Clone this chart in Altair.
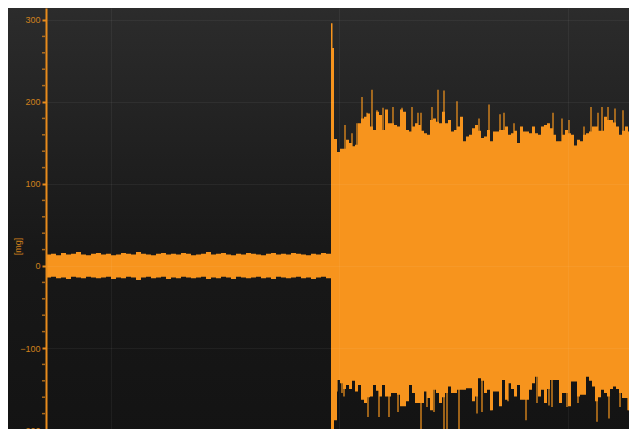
import altair as alt
import pandas as pd

# ---- axis values ----
x_ticks = [1, 2, 3]                       # time grid (s)
y_major = [-200, -100, 0, 100, 200, 300]  # labelled ticks [mg]
y_minor = [v for v in range(-220, 301, 20) if v % 100 != 0]

# ---- segment 1: low-level noise envelope (before the event) ----
low_t0 = 0.71554
low_dt = 0.021882
low_hi = [14, 15, 13, 16, 14, 15, 17, 14, 13, 15,
          16, 14, 15, 13, 14, 16, 15, 14, 17, 15,
          14, 13, 15, 16, 14, 15, 14, 16, 15, 13,
          14, 15, 17, 14, 15, 16, 14, 13, 15, 14,
          16, 15, 14, 13, 15, 16, 14, 15, 14, 16,
          15, 14, 13, 15, 14, 16, 15]
low_lo = [-14, -13, -15, -14, -16, -13, -14, -15, -13, -14,
          -15, -14, -13, -16, -14, -15, -13, -14, -17, -14,
          -13, -15, -14, -13, -16, -14, -15, -13, -14, -15,
          -14, -13, -16, -14, -15, -13, -14, -16, -13, -14,
          -15, -14, -13, -15, -14, -16, -13, -14, -15, -14,
          -13, -15, -14, -16, -14, -13, -15]

# ---- event spike ----
spike_t0 = 1.96280
spike_dt = 0.006565
spike_hi = [296, 266]
spike_lo = [-235, -235]

# ---- segment 2: high-level vibration envelope (body) ----
high_t0 = 1.97593
high_dt = 0.013129
high_hi = [155, 139, 143, 143, 154, 150, 146, 148, 174, 180,
           182, 186, 170, 166, 188, 184, 166, 191, 174, 174,
           172, 170, 191, 188, 166, 164, 170, 174, 172, 165,
           162, 160, 178, 180, 176, 174, 188, 174, 178, 164,
           166, 170, 182, 152, 158, 160, 168, 172, 165, 156,
           158, 166, 152, 164, 164, 166, 166, 170, 160, 162,
           165, 150, 170, 164, 164, 162, 170, 162, 160, 170,
           172, 174, 168, 160, 152, 152, 160, 166, 162, 160,
           147, 154, 152, 160, 162, 164, 170, 170, 165, 165,
           182, 178, 178, 175, 170, 160, 165, 170, 164, 165,
           166]
high_lo = [-188, -139, -143, -150, -145, -150, -140, -153, -145, -163,
           -167, -160, -159, -145, -152, -159, -145, -159, -159, -155,
           -155, -157, -171, -171, -165, -145, -155, -167, -167, -167,
           -153, -161, -176, -151, -155, -167, -160, -155, -147, -155,
           -155, -151, -151, -151, -149, -149, -165, -159, -137, -140,
           -155, -151, -176, -153, -153, -171, -139, -163, -143, -150,
           -159, -145, -163, -163, -163, -151, -143, -135, -159, -151,
           -167, -150, -139, -139, -139, -167, -155, -155, -171, -141,
           -141, -159, -157, -157, -135, -140, -147, -165, -160, -151,
           -155, -159, -150, -147, -150, -155, -161, -161, -176, -157,
           -147]

# ---- thin single-sample peaks in segment 2 ----
peak_up_t = [2.0241, 2.0547, 2.0766, 2.0985, 2.1204, 2.1422, 2.1641, 2.1904,
             2.2341, 2.2735, 2.3173, 2.3435, 2.3567, 2.4048, 2.4311,
             2.4573, 2.5142, 2.6105, 2.6543, 2.7024, 2.7199, 2.7637, 2.9344,
             2.9737, 3.0044, 3.0700, 3.1007, 3.1313, 3.1488, 3.1751, 3.2057,
             3.2407]
peak_up_v = [172, 162, 174, 206, 187, 215, 190, 193,
             194, 193, 194, 187, 187, 194, 215,
             214, 201, 180, 197, 185, 187, 174, 187,
             180, 178, 170, 194, 187, 194, 194, 192,
             190]
peak_dn_t = [1.9891, 2.0109, 2.0197, 2.1247, 2.1729, 2.2166, 2.2560, 2.3567,
             2.3829, 2.4136, 2.4573, 2.4705, 2.5230, 2.6018, 2.6236, 2.6630,
             2.7024, 2.7374, 2.8162, 2.8643, 2.9168, 2.9300, 2.9956, 3.0438,
             3.1269, 3.1794, 3.2276, 3.2626]
peak_dn_v = [-153, -155, -159, -184, -184, -184, -178, -215,
             -172, -178, -215, -215, -215, -180, -178, -176,
             -167, -165, -188, -167, -170, -172, -172, -167,
             -190, -186, -172, -176]

X_DOMAIN = [0.71554, 3.26696]
Y_DOMAIN = [-221.95, 314.63]

rows = []
for t0, dt, hi, lo in [(low_t0, low_dt, low_hi, low_lo),
                       (spike_t0, spike_dt, spike_hi, spike_lo),
                       (high_t0, high_dt, high_hi, high_lo)]:
    for i, (h, l) in enumerate(zip(hi, lo)):
        rows.append({"t": t0 + i * dt, "hi": h, "lo": l})
rows.append({"t": high_t0 + len(high_hi) * high_dt, "hi": high_hi[-1], "lo": high_lo[-1]})
df = pd.DataFrame(rows)

# peaks start from inside the orange body so they only show beyond its edge
peaks = pd.DataFrame({
    "t": peak_up_t + peak_dn_t,
    "v": peak_up_v + peak_dn_v,
    "base": [130] * len(peak_up_t) + [-130] * len(peak_dn_t),
})

W, H = 583, 440
ORANGE = "#F7941D"
PEAK = "#E68D1D"
AXIS = "#E88B1C"
LABEL = "#CF801C"

bg = alt.Chart(pd.DataFrame({"k": [0]})).mark_rect(
    fill=alt.Gradient(
        gradient="linear", x1=0, y1=0, x2=0, y2=1,
        stops=[alt.GradientStop(color="#2c2c2c", offset=0),
               alt.GradientStop(color="#181818", offset=0.55),
               alt.GradientStop(color="#131313", offset=1)]),
    strokeWidth=0,
).encode(x=alt.value(-40), x2=alt.value(W), y=alt.value(-4), y2=alt.value(H))

xs = alt.Scale(domain=X_DOMAIN, nice=False, zero=False)
ys = alt.Scale(domain=Y_DOMAIN, nice=False, zero=False)

thin = alt.Chart(peaks).mark_rule(color=PEAK, strokeWidth=1.3, clip=True).encode(
    x=alt.X("t:Q", scale=xs),
    y=alt.Y("v:Q", scale=ys),
    y2="base:Q",
)

area = alt.Chart(df).mark_area(interpolate="step-after", color=ORANGE, opacity=1, clip=True).encode(
    x=alt.X("t:Q", scale=xs,
            axis=alt.Axis(values=x_ticks, grid=True, gridColor="#ffffff", gridOpacity=0.05,
                          labels=False, ticks=False, domain=False, title=None, zindex=1)),
    y=alt.Y("hi:Q", scale=ys,
            axis=alt.Axis(values=y_major, grid=True, gridColor="#ffffff", gridOpacity=0.05,
                          domainColor=AXIS, domainWidth=2, tickColor=AXIS, tickWidth=2,
                          tickSize=4, labelColor=LABEL, labelFontSize=9,
                          labelFont="Liberation Sans", labelPadding=2,
                          title="[mg]", titleColor=LABEL, titleFontSize=9,
                          titleFont="Liberation Sans", titleFontWeight="normal",
                          titleAngle=270, titleX=-24, titleY=238, zindex=1)),
    y2="lo:Q",
)

minor = alt.Chart(pd.DataFrame({"v": y_minor})).mark_tick(
    color=AXIS, size=3, thickness=1.5
).encode(y=alt.Y("v:Q", scale=ys), x=alt.value(-2.5))

chart = alt.layer(bg, thin, area, minor).properties(
    width=W, height=H,
    autosize=alt.AutoSizeParams(type="none"),
    padding={"left": 38, "top": 0, "right": 0, "bottom": 0},
).configure(background="#151515").configure_view(strokeWidth=0)

chart.save("out.html", embed_options={"renderer": "svg", "actions": False})
